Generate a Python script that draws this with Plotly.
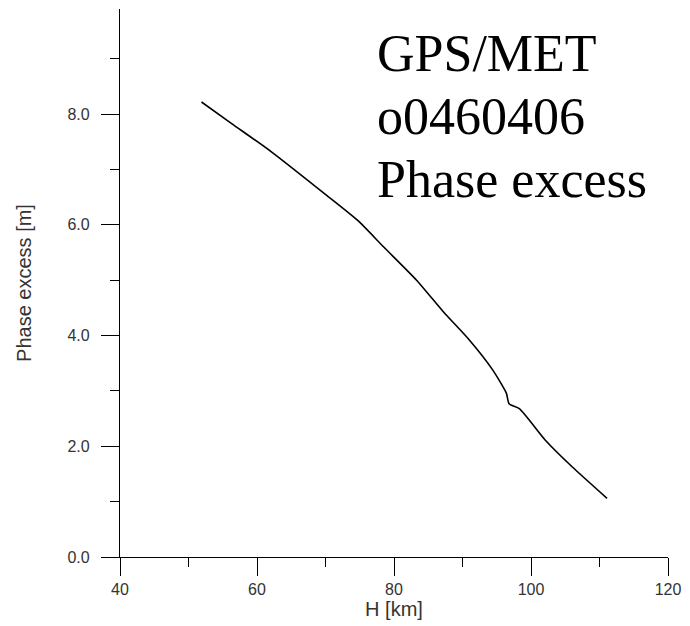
import plotly.graph_objects as go

# Phase excess profile versus tangent-point height
height_km = [51.9, 56.3, 62.1, 69.8, 74.7, 78.5, 83.3, 87.2, 91.0, 94.4,
             96.4, 96.8, 98.3, 102.1, 106.0, 111.1]
phase_excess_m = [8.22, 7.83, 7.32, 6.57, 6.08, 5.60, 5.00, 4.43, 3.92, 3.38,
                  2.96, 2.77, 2.68, 2.11, 1.63, 1.06]

label_lines = ["GPS/MET", "o0460406", "Phase excess"]

fig = go.Figure(
    go.Scatter(
        x=height_km,
        y=phase_excess_m,
        mode="lines",
        line=dict(color="black", width=1.6, shape="spline", smoothing=0.6),
        showlegend=False,
        hoverinfo="skip",
    )
)

axis_common = dict(
    showline=True,
    linecolor="black",
    linewidth=1.3,
    mirror=False,
    showgrid=False,
    zeroline=False,
    ticks="outside",
    ticklen=18,
    tickwidth=1.3,
    tickcolor="black",
    tickfont=dict(family="Liberation Sans, Arial, sans-serif", size=16, color="#333"),
)

fig.update_xaxes(
    **axis_common,
    range=[40, 120],
    tick0=40,
    dtick=20,
    minor=dict(ticks="outside", ticklen=9, tickwidth=1.3, tickcolor="black", dtick=10, tick0=40, showgrid=False),
    title=dict(text="H [km]", font=dict(family="Liberation Sans, Arial, sans-serif", size=20, color="#333"), standoff=2),
)
fig.update_yaxes(
    **axis_common,
    range=[0, 9.9],
    tick0=0,
    dtick=2,
    tickformat=".1f",
    ticklabelstandoff=8,
    minor=dict(ticks="outside", ticklen=9, tickwidth=1.3, tickcolor="black", dtick=1, tick0=0, showgrid=False),
    title=dict(text="Phase excess [m]", font=dict(family="Liberation Sans, Arial, sans-serif", size=20, color="#333"), standoff=30),
)

# Stacked caption in the upper right of the plot area
baseline_px = [72, 134, 197]
for text, base in zip(label_lines, baseline_px):
    fig.add_annotation(
        text=text,
        xref="paper",
        yref="paper",
        x=(378 - 120.5) / 552.5,
        y=(557 - (base - 18)) / 548,
        xanchor="left",
        yanchor="middle",
        showarrow=False,
        font=dict(family="Liberation Serif, Times New Roman, serif", size=52, color="black"),
    )

fig.update_layout(
    width=690,
    height=626,
    margin=dict(l=120, r=17, t=9, b=69),
    paper_bgcolor="white",
    plot_bgcolor="white",
)

fig.write_html("out.html")
